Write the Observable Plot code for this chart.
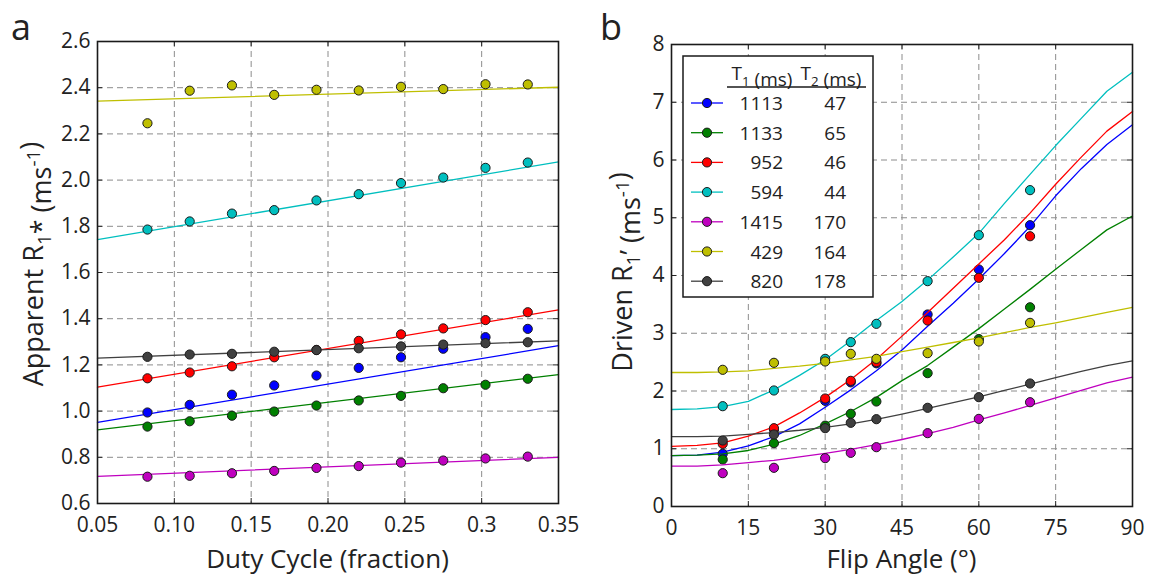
<!DOCTYPE html>
<html><head><meta charset="utf-8">
<script src="https://cdn.jsdelivr.net/npm/d3@7"></script>
<script src="https://cdn.jsdelivr.net/npm/@observablehq/plot@0.6"></script>
<style>
body{margin:0;background:#fff;font-family:"Open Sans",sans-serif;}
#wrap{position:relative;width:1151px;height:580px;overflow:hidden;}
#a,#b{position:absolute;top:0;}
#a{left:0px}#b{left:575px}
</style></head><body><div id="wrap"><div id="a"></div><div id="b"></div></div>
<script>
// ---- series metadata ----
const seriesNames = ["blue","green","red","cyan","magenta","yellow","gray"];
const seriesColors = ["#0000ff","#008000","#ff0000","#00bfbf","#bf00bf","#bfbf00","#404040"];
const t1Values = [1113,1133,952,594,1415,429,820];
const t2Values = [47,65,46,44,170,164,178];

// ---- panel a ----
const dutyCycle = [0.0825,0.11,0.1375,0.165,0.1925,0.22,0.2475,0.275,0.3025,0.33];
const appBlue    = [0.994,1.027,1.071,1.111,1.154,1.187,1.233,1.270,1.320,1.356];
const appGreen   = [0.933,0.956,0.980,0.998,1.024,1.046,1.066,1.099,1.114,1.140];
const appRed     = [1.142,1.167,1.194,1.233,1.265,1.304,1.332,1.358,1.394,1.428];
const appCyan    = [1.786,1.821,1.855,1.870,1.912,1.939,1.987,2.011,2.053,2.076];
const appMagenta = [0.716,0.720,0.731,0.741,0.754,0.762,0.777,0.786,0.795,0.803];
const appYellow  = [2.246,2.387,2.410,2.369,2.391,2.388,2.404,2.394,2.415,2.414];
const appGray    = [1.235,1.245,1.248,1.257,1.264,1.272,1.280,1.288,1.294,1.298];
const fitDuty = [0.05,0.35];
const fitBlue    = [0.951,1.283];
const fitGreen   = [0.919,1.158];
const fitRed     = [1.104,1.438];
const fitCyan    = [1.742,2.079];
const fitMagenta = [0.717,0.800];
const fitYellow  = [2.342,2.402];
const fitGray    = [1.229,1.304];
const xTicksA = [0.05,0.10,0.15,0.20,0.25,0.30,0.35];
const xTickLabelsA = ["0.05","0.10","0.15","0.20","0.25","0.3","0.35"];
const yTicksA = [0.6,0.8,1.0,1.2,1.4,1.6,1.8,2.0,2.2,2.4,2.6];
const yTickLabelsA = ["0.6","0.8","1.0","1.2","1.4","1.6","1.8","2.0","2.2","2.4","2.6"];

// ---- panel b ----
const flipMeas = [10,20,30,35,40,50,60,70];
const drvBlue    = [0.912,1.33,1.83,2.15,2.48,3.325,4.104,4.871];
const drvGreen   = [0.814,1.097,1.40,1.605,1.818,2.309,2.90,3.45];
const drvRed     = [1.085,1.356,1.870,2.176,2.499,3.22,3.96,4.68];
const drvCyan    = [1.737,2.009,2.557,2.846,3.163,3.902,4.698,5.478];
const drvMagenta = [0.577,0.670,0.837,0.929,1.027,1.27,1.517,1.806];
const drvYellow  = [2.367,2.488,2.511,2.644,2.557,2.655,2.857,3.180];
const drvGray    = [1.143,1.247,1.356,1.449,1.512,1.709,1.893,2.13];
const flipModel = [0,5,10,15,20,25,30,35,40,45,50,55,60,65,70,75,80,85,90];
const modBlue    = [0.88,0.89,0.94,1.05,1.21,1.43,1.72,2.02,2.35,2.71,3.12,3.52,3.94,4.38,4.85,5.38,5.85,6.27,6.61];
const modGreen   = [0.88,0.89,0.91,0.97,1.08,1.23,1.43,1.645,1.89,2.18,2.44,2.76,3.08,3.42,3.76,4.11,4.45,4.79,5.03];
const modRed     = [1.04,1.06,1.10,1.22,1.38,1.62,1.89,2.20,2.55,2.95,3.36,3.78,4.20,4.62,5.08,5.58,6.05,6.50,6.84];
const modCyan    = [1.68,1.69,1.73,1.82,2.02,2.27,2.54,2.87,3.22,3.55,3.92,4.32,4.73,5.25,5.75,6.25,6.72,7.19,7.52];
const modMagenta = [0.70,0.70,0.72,0.76,0.80,0.86,0.92,0.99,1.07,1.16,1.26,1.37,1.50,1.62,1.75,1.88,2.01,2.14,2.24];
const modYellow  = [2.32,2.32,2.33,2.35,2.39,2.43,2.48,2.54,2.60,2.68,2.76,2.84,2.92,3.01,3.10,3.18,3.27,3.36,3.45];
const modGray    = [1.21,1.21,1.22,1.25,1.28,1.32,1.37,1.43,1.51,1.60,1.70,1.80,1.90,2.01,2.12,2.23,2.34,2.44,2.52];
const xTicksB = [0,15,30,45,60,75,90];
const yTicksB = [0,1,2,3,4,5,6,7,8];

// ---- tables ----
const appAll = [appBlue,appGreen,appRed,appCyan,appMagenta,appYellow,appGray];
const fitAll = [fitBlue,fitGreen,fitRed,fitCyan,fitMagenta,fitYellow,fitGray];
const drvAll = [drvBlue,drvGreen,drvRed,drvCyan,drvMagenta,drvYellow,drvGray];
const modAll = [modBlue,modGreen,modRed,modCyan,modMagenta,modYellow,modGray];

const rows = (xs, ys) => xs.map((x, j) => ({x, y: ys[j]}));

const FONT = "Open Sans, sans-serif";
const INK = "#222";
const TICK_FS = 21;

function panel(o) {
  const H = 580;
  const pw = o.width - o.ml - o.mr, ph = H - o.mt - o.mb;
  const inner = o.xTicks.slice(1, -1), innerY = o.yTicks.slice(1, -1);
  const marks = [
    Plot.gridX(inner, {stroke: "#8c8c8c", strokeOpacity: 1, strokeDasharray: "6,4", strokeWidth: 1}),
    Plot.gridY(innerY, {stroke: "#8c8c8c", strokeOpacity: 1, strokeDasharray: "6,4", strokeWidth: 1}),
    Plot.tickY(o.yTicks, {y: d => d, insetRight: pw - 5, stroke: INK}),
    Plot.tickY(o.yTicks, {y: d => d, insetLeft: pw - 5, stroke: INK}),
    Plot.tickX(o.xTicks, {x: d => d, insetTop: ph - 5, stroke: INK}),
    Plot.tickX(o.xTicks, {x: d => d, insetBottom: ph - 5, stroke: INK}),
    Plot.axisX(o.xTicks, {tickFormat: o.xFmt, tickSize: 0, tickPadding: 14, label: null, fontSize: TICK_FS}),
    Plot.axisY(o.yTicks, {tickFormat: o.yFmt, tickSize: 0, tickPadding: 7, label: null, fontSize: TICK_FS})
  ];
  seriesNames.forEach((s, i) => {
    marks.push(Plot.line(rows(o.lineX, o.lineY[i]), {x: "x", y: "y", stroke: seriesColors[i], strokeWidth: 1.3}));
    marks.push(Plot.dot(rows(o.dotX, o.dotY[i]), {x: "x", y: "y", r: 4.6, fill: seriesColors[i], stroke: "#1a1a1a", strokeWidth: 1}));
  });
  marks.push(Plot.frame({stroke: "#1a1a1a", strokeWidth: 1.6}));
  const svg = Plot.plot({
    width: o.width, height: H,
    marginLeft: o.ml, marginRight: o.mr, marginTop: o.mt, marginBottom: o.mb,
    x: {domain: o.xDom}, y: {domain: o.yDom},
    style: {fontFamily: FONT, fontSize: TICK_FS + "px", color: INK, background: "transparent", overflow: "visible"},
    marks
  });
  d3.select(svg).selectAll("g[aria-label$='tick label']")
    .style("font-size", TICK_FS + "px").attr("font-size", TICK_FS);
  return svg;
}

const mapA = new Map(xTicksA.map((t, i) => [t, xTickLabelsA[i]]));
const mapAy = new Map(yTicksA.map((t, i) => [t, yTickLabelsA[i]]));
const svgA = panel({
  width: 575, ml: 97, mr: 17, mt: 41, mb: 77,
  xDom: [0.05, 0.35], yDom: [0.6, 2.6],
  xTicks: xTicksA, yTicks: yTicksA,
  xFmt: d => mapA.get(d), yFmt: d => mapAy.get(d),
  lineX: fitDuty, lineY: fitAll, dotX: dutyCycle, dotY: appAll
});
document.getElementById("a").appendChild(svgA);

const svgB = panel({
  width: 576, ml: 96, mr: 19, mt: 44, mb: 74,
  xDom: [0, 90], yDom: [0, 8],
  xTicks: xTicksB, yTicks: yTicksB,
  xFmt: d => String(d), yFmt: d => String(d),
  lineX: flipModel, lineY: modAll, dotX: flipMeas, dotY: drvAll
});
document.getElementById("b").appendChild(svgB);

// ---- text labels with sub/superscripts ----
function richText(sel, parts, size) {
  parts.forEach(p => {
    if (typeof p === "string") sel.append("tspan").text(p);
    else if (p.sub) {
      sel.append("tspan").attr("dy", size * 0.3).attr("font-size", size * 0.7).text(p.sub);
      sel.append("tspan").attr("dy", -size * 0.3).text("");
    } else if (p.sup) {
      sel.append("tspan").attr("dy", -size * 0.4).attr("font-size", size * 0.7).text(p.sup);
      sel.append("tspan").attr("dy", size * 0.4).text("");
    }
  });
}
function addLabels(svg, o) {
  const g = d3.select(svg).append("g").attr("font-family", FONT).attr("fill", INK);
  g.append("text").attr("x", o.letterX).attr("y", 40).attr("font-size", 36).attr("text-anchor", "middle").text(o.letter);
  g.append("text").attr("x", o.xlabX).attr("y", 568).attr("text-anchor", "middle").attr("font-size", 26).text(o.xlab);
  const yl = g.append("text").attr("text-anchor", "middle").attr("font-size", 27)
    .attr("transform", `translate(${o.ylabX},${o.ylabY}) rotate(-90)`);
  richText(yl, o.ylab, 27);
}
addLabels(svgA, {letter: "a", letterX: 21, xlab: "Duty Cycle (fraction)", xlabX: 327.5,
  ylabX: 43, ylabY: 264, ylab: ["Apparent R", {sub: "1"}, "* (ms", {sup: "-1"}, ")"]});
addLabels(svgB, {letter: "b", letterX: 36, xlab: "Flip Angle (°)", xlabX: 326.5,
  ylabX: 57, ylabY: 272, ylab: ["Driven R", {sub: "1"}, "’ (ms", {sup: "-1"}, ")"]});

// ---- legend (panel b) ----
(function legend() {
  const g = d3.select(svgB).append("g").attr("font-family", FONT).attr("fill", INK).attr("font-size", 19);
  const bx = 108, by = 56, bw = 190, bh = 241;
  g.append("rect").attr("x", bx).attr("y", by).attr("width", bw).attr("height", bh)
    .attr("fill", "#fff").attr("stroke", "#1a1a1a").attr("stroke-width", 1.5);
  const h1 = g.append("text").attr("x", 187).attr("y", 80).attr("text-anchor", "middle");
  richText(h1, ["T", {sub: "1"}, " (ms)"], 19);
  const h2 = g.append("text").attr("x", 256).attr("y", 80).attr("text-anchor", "middle");
  richText(h2, ["T", {sub: "2"}, " (ms)"], 19);
  g.append("line").attr("x1", 152).attr("x2", 291).attr("y1", 87).attr("y2", 87).attr("stroke", "#1a1a1a").attr("stroke-width", 1.3);
  seriesNames.forEach((s, i) => {
    const cy = 103 + i * 29.7;
    g.append("line").attr("x1", 116).attr("x2", 148).attr("y1", cy).attr("y2", cy)
      .attr("stroke", seriesColors[i]).attr("stroke-width", 1.3);
    g.append("circle").attr("cx", 132).attr("cy", cy).attr("r", 4.6)
      .attr("fill", seriesColors[i]).attr("stroke", "#1a1a1a").attr("stroke-width", 1);
    g.append("text").attr("x", 208).attr("y", cy + 7).attr("text-anchor", "end").text(t1Values[i]);
    g.append("text").attr("x", 271).attr("y", cy + 7).attr("text-anchor", "end").text(t2Values[i]);
  });
})();
</script></body></html>
